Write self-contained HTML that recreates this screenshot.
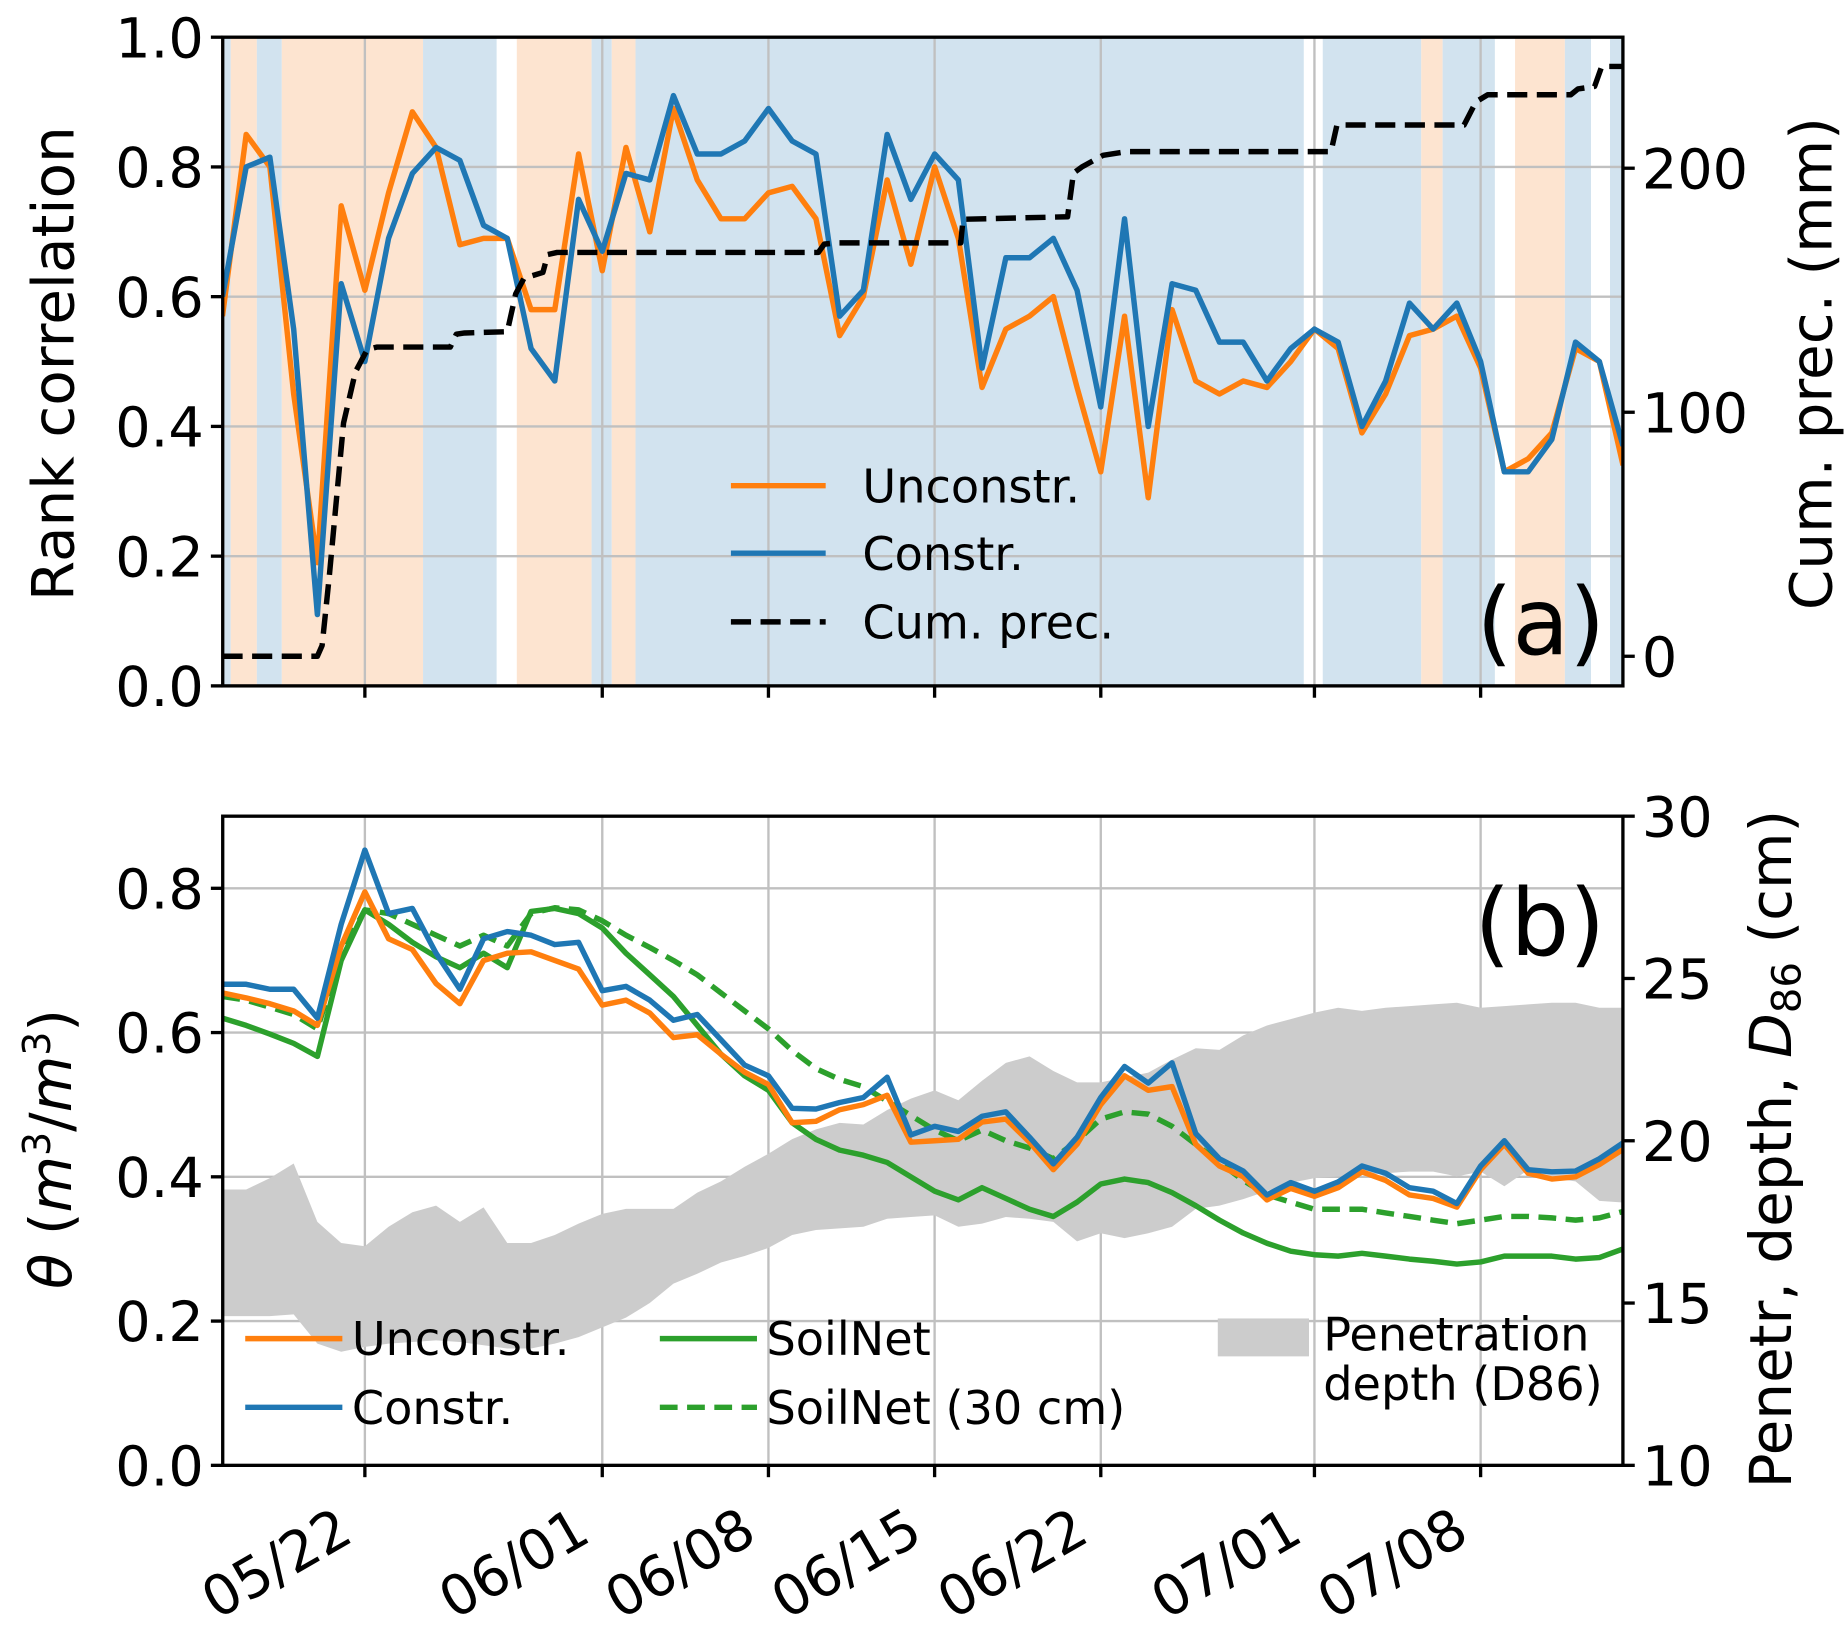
<!DOCTYPE html>
<html><head><meta charset="utf-8">
<style>
html,body{margin:0;padding:0;background:#fff;}
svg{display:block;}
text{font-family:"DejaVu Sans","Liberation Sans",sans-serif;fill:#000;}
</style></head>
<body>
<svg id="fig" width="1848" height="1630" viewBox="0 0 1560 1376" xmlns="http://www.w3.org/2000/svg">
<g id="pa"></g>
<g id="pb"></g>
</svg>
<script>
// ---------- data ----------
const dateTicks = [0, 10, 17, 24, 31, 40, 47];
const dateLabels = ["05/22", "06/01", "06/08", "06/15", "06/22", "07/01", "07/08"];
const seriesDays = [-6,-5,-4,-3,-2,-1,0,1,2,3,4,5,6,7,8,9,10,11,12,13,14,15,16,17,18,19,20,21,22,23,24,25,26,27,28,29,30,31,32,33,34,35,36,37,38,39,40,41,42,43,44,45,46,47,48,49,50,51,52,53];
const rankUnconstr = [0.57,0.85,0.80,0.45,0.19,0.74,0.61,0.76,0.885,0.83,0.68,0.69,0.69,0.58,0.58,0.82,0.64,0.83,0.70,0.89,0.78,0.72,0.72,0.76,0.77,0.72,0.54,0.60,0.78,0.65,0.80,0.69,0.46,0.55,0.57,0.60,0.46,0.33,0.57,0.29,0.58,0.47,0.45,0.47,0.46,0.50,0.55,0.52,0.39,0.45,0.54,0.55,0.57,0.49,0.33,0.35,0.39,0.52,0.50,0.34];
const rankConstr = [0.60,0.80,0.815,0.55,0.11,0.62,0.50,0.69,0.79,0.83,0.81,0.71,0.69,0.52,0.47,0.75,0.67,0.79,0.78,0.91,0.82,0.82,0.84,0.89,0.84,0.82,0.57,0.61,0.85,0.75,0.82,0.78,0.49,0.66,0.66,0.69,0.61,0.43,0.72,0.40,0.62,0.61,0.53,0.53,0.47,0.52,0.55,0.53,0.40,0.47,0.59,0.55,0.59,0.50,0.33,0.33,0.38,0.53,0.50,0.37];
const precDays = [-6,-2,-1.8,-1.5,-0.9,-0.4,0.1,0.5,3.6,3.85,4.2,6,6.35,6.7,7.5,7.7,8.1,19.1,19.35,19.85,25.1,25.2,29.6,29.85,30.2,31.1,32.1,40.7,40.95,46.3,46.8,47.3,50.8,51.1,51.8,52.1,53];
const precMm = [0,0,4.4,32.5,95.6,116.5,125.7,126.7,126.7,132,132.5,133,148.5,154.9,157.3,164.6,165.5,165.5,168.9,169.4,169.4,179.1,180.1,198,200.5,205.3,206.8,206.8,217.7,217.7,227.2,230.1,230.1,232.5,233.5,241.7,241.7];
const bandStart = [-5.95,-5.65,-4.55,-3.5,2.45,5.55,6.4,9.55,10.4,11.4,39.55,40.35,44.5,45.4,47.6,48.45,50.55,51.65,52.45];
const bandEnd   = [-5.65,-4.55,-3.5,2.45,5.55,6.4,9.55,10.4,11.4,39.55,40.35,44.5,45.4,47.6,48.45,50.55,51.65,52.45,53];
const bandKind  = ["c","u","c","u","c","n","u","c","u","c","n","c","u","c","n","u","c","n","c"];
const thetaUnconstr = [0.655,0.648,0.64,0.63,0.61,0.72,0.795,0.73,0.715,0.668,0.64,0.70,0.71,0.712,0.70,0.688,0.638,0.645,0.627,0.593,0.597,0.57,0.545,0.528,0.475,0.477,0.493,0.50,0.513,0.448,0.45,0.452,0.476,0.48,0.448,0.41,0.445,0.50,0.54,0.52,0.525,0.445,0.415,0.40,0.368,0.384,0.373,0.385,0.407,0.395,0.375,0.37,0.358,0.41,0.445,0.405,0.397,0.40,0.417,0.438];
const thetaConstr = [0.667,0.667,0.66,0.66,0.62,0.75,0.853,0.765,0.772,0.71,0.66,0.73,0.74,0.735,0.722,0.725,0.658,0.664,0.645,0.617,0.625,0.59,0.555,0.54,0.495,0.494,0.503,0.51,0.538,0.458,0.47,0.463,0.484,0.49,0.455,0.418,0.455,0.51,0.553,0.53,0.558,0.46,0.425,0.408,0.375,0.392,0.38,0.393,0.415,0.405,0.385,0.38,0.363,0.415,0.45,0.41,0.407,0.408,0.425,0.447];
const soilNet = [0.62,0.61,0.598,0.585,0.567,0.70,0.77,0.75,0.725,0.705,0.69,0.71,0.69,0.768,0.772,0.765,0.745,0.71,0.68,0.65,0.61,0.57,0.54,0.52,0.475,0.452,0.437,0.43,0.42,0.40,0.38,0.368,0.385,0.37,0.355,0.345,0.365,0.39,0.397,0.392,0.378,0.36,0.34,0.322,0.308,0.297,0.292,0.29,0.294,0.29,0.286,0.283,0.279,0.282,0.29,0.29,0.29,0.286,0.288,0.30];
const soilNet30 = [0.65,0.645,0.635,0.625,0.605,0.71,0.77,0.765,0.75,0.735,0.72,0.735,0.72,0.765,0.773,0.77,0.755,0.735,0.718,0.70,0.68,0.655,0.63,0.605,0.575,0.55,0.535,0.525,0.505,0.485,0.465,0.45,0.465,0.45,0.44,0.425,0.45,0.48,0.49,0.487,0.47,0.445,0.42,0.395,0.375,0.365,0.355,0.355,0.355,0.35,0.345,0.34,0.335,0.34,0.345,0.345,0.343,0.34,0.343,0.352];
const penUpper = [18.5,18.5,18.85,19.3,17.5,16.85,16.75,17.35,17.8,18.0,17.5,17.95,16.85,16.85,17.1,17.45,17.75,17.9,17.9,17.9,18.4,18.75,19.2,19.6,20.05,20.35,20.55,20.5,20.95,21.3,21.55,21.25,21.85,22.4,22.6,22.15,21.8,21.8,21.95,22.1,22.5,22.85,22.8,23.25,23.55,23.75,23.95,24.1,24.0,24.1,24.15,24.2,24.25,24.1,24.15,24.2,24.25,24.25,24.1,24.1];
const penLower = [14.6,14.6,14.6,14.65,13.75,13.5,13.65,13.75,13.8,13.85,13.8,13.7,13.6,13.6,13.75,13.95,14.25,14.55,15.0,15.6,15.9,16.25,16.45,16.7,17.1,17.25,17.3,17.35,17.6,17.65,17.7,17.35,17.45,17.65,17.6,17.5,16.9,17.15,17.0,17.15,17.35,17.9,18.0,18.2,18.45,18.7,18.85,18.9,18.95,19.0,19.05,19.05,18.9,19.05,18.6,19.1,18.85,18.75,18.15,18.1];

// ---------- helpers ----------
const NS = "http://www.w3.org/2000/svg";
const X0 = 188, X1 = 1370;
const LW = 4.6;
function xOf(d){ return 308 + d * 20.04; }
const A = {top:31.4, bot:579, ly:v=>579 - v*547.6, ry:mm=>554 - mm*2.06};
const B = {top:689, bot:1237, ly:v=>1237 - v*608.9, ry:cm=>1237 - (cm-10)*27.4};
function mk(parent, tag, attrs){
  const e = document.createElementNS(NS, tag);
  for (const k in attrs) e.setAttribute(k, attrs[k]);
  parent.appendChild(e);
  return e;
}
function txt(parent, x, y, s, size, anchor, extra){
  const t = mk(parent, "text", Object.assign({x:x, y:y, "font-size":size, "text-anchor":anchor||"start"}, extra||{}));
  t.textContent = s;
  return t;
}
function pathFrom(xs, ys){ return xs.map((x,i)=>(i?"L":"M")+x.toFixed(1)+","+ys[i].toFixed(1)).join(""); }

const pa = document.getElementById("pa");
const pb = document.getElementById("pb");

// ---------- panel a ----------
const clipA = mk(pa, "clipPath", {id:"clipA"});
mk(clipA, "rect", {x:X0, y:A.top, width:X1-X0, height:A.bot-A.top});
const bandsG = mk(pa, "g", {"clip-path":"url(#clipA)"});


bandStart.forEach((s,i)=>{
  if (bandKind[i] === "n") return;
  const r = mk(bandsG, "rect", {x:xOf(s), y:A.top, width:xOf(bandEnd[i])-xOf(s), height:A.bot-A.top,
    fill: bandKind[i]==="u" ? "#fde4d0" : "#d2e3ef"});
  
  
});
const gridA = mk(pa, "g", {stroke:"#c0c0c0", "stroke-width":2});


[0.2,0.4,0.6,0.8].forEach(v=>mk(gridA,"line",{x1:X0,x2:X1,y1:A.ly(v),y2:A.ly(v)}));
dateTicks.forEach(d=>mk(gridA,"line",{x1:xOf(d),x2:xOf(d),y1:A.top,y2:A.bot}));
const serA = mk(pa, "g", {"clip-path":"url(#clipA)", fill:"none", "stroke-linejoin":"round"});
const xsA = seriesDays.map(xOf);
const pU = mk(serA, "path", {d:pathFrom(xsA, rankUnconstr.map(A.ly)), stroke:"#ff7f0e", "stroke-width":LW});


const pC = mk(serA, "path", {d:pathFrom(xsA, rankConstr.map(A.ly)), stroke:"#1f77b4", "stroke-width":LW});


const pP = mk(serA, "path", {d:pathFrom(precDays.map(xOf), precMm.map(A.ry)), stroke:"#000", "stroke-width":LW, "stroke-dasharray":"17,8"});


mk(pa, "rect", {x:X0, y:A.top, width:X1-X0, height:A.bot-A.top, fill:"none", stroke:"#000", "stroke-width":2.8});
const tkA = mk(pa, "g", {stroke:"#000", "stroke-width":2.8});
[0,0.2,0.4,0.6,0.8,1.0].forEach(v=>{
  mk(tkA,"line",{x1:X0-10,x2:X0,y1:A.ly(v),y2:A.ly(v)});
  const t = txt(pa, X0-16, A.ly(v)+17, v.toFixed(1), 47, "end");
  
  
});
[0,100,200].forEach(v=>{
  mk(tkA,"line",{x1:X1,x2:X1+10,y1:A.ry(v),y2:A.ry(v)});
  const t = txt(pa, X1+16, A.ry(v)+17, String(v), 47, "start");
  
  
});
dateTicks.forEach(d=>mk(tkA,"line",{x1:xOf(d),x2:xOf(d),y1:A.bot,y2:A.bot+10}));
const ylA = txt(pa, 0, 0, "Rank correlation", 49, "middle", {transform:"translate(62,307) rotate(-90)"});


const y2A = txt(pa, 0, 0, "Cum. prec. (mm)", 49, "middle", {transform:"translate(1546,307) rotate(-90)"});


const tagA = txt(pa, 1355, 552, "(a)", 78, "end");


const legA = mk(pa, "g", {});


[["Unconstr.","#ff7f0e",null,410],["Constr.","#1f77b4",null,467],["Cum. prec.","#000","17,8",525]].forEach(r=>{
  const l = mk(legA,"line",{x1:617,x2:697,y1:r[3],y2:r[3],stroke:r[1],"stroke-width":LW});
  if (r[2]) l.setAttribute("stroke-dasharray", r[2]);
  const t = txt(legA, 728, r[3]+14, r[0], 39, "start");
  
  
});

// ---------- panel b ----------
const clipB = mk(pb, "clipPath", {id:"clipB"});
mk(clipB, "rect", {x:X0, y:B.top, width:X1-X0, height:B.bot-B.top});
const gridB = mk(pb, "g", {stroke:"#c0c0c0", "stroke-width":2});


[0.2,0.4,0.6,0.8].forEach(v=>mk(gridB,"line",{x1:X0,x2:X1,y1:B.ly(v),y2:B.ly(v)}));
dateTicks.forEach(d=>mk(gridB,"line",{x1:xOf(d),x2:xOf(d),y1:B.top,y2:B.bot}));
const serB = mk(pb, "g", {"clip-path":"url(#clipB)", fill:"none", "stroke-linejoin":"round"});
const xsB = seriesDays.map(xOf);
const up = xsB.map((x,i)=>(i?"L":"M")+x.toFixed(1)+","+B.ry(penUpper[i]).toFixed(1)).join("");
const lo = xsB.slice().reverse().map((x,j)=>{const i=xsB.length-1-j;return "L"+x.toFixed(1)+","+B.ry(penLower[i]).toFixed(1);}).join("");
const band = mk(serB, "path", {d:up+lo+"Z", fill:"#cccccc", stroke:"none"});


const lines = [
  [soilNet30,"#2ca02c","15,8","soilnet-30cm-line"],
  [soilNet,"#2ca02c",null,"soilnet-line"],
  [thetaUnconstr,"#ff7f0e",null,"theta-unconstr-line"],
  [thetaConstr,"#1f77b4",null,"theta-constr-line"]
];
lines.forEach(L=>{
  const p = mk(serB,"path",{d:pathFrom(xsB, L[0].map(B.ly)), stroke:L[1], "stroke-width":LW});
  if (L[2]) p.setAttribute("stroke-dasharray", L[2]);
  
  
});
mk(pb, "rect", {x:X0, y:B.top, width:X1-X0, height:B.bot-B.top, fill:"none", stroke:"#000", "stroke-width":2.8});
const tkB = mk(pb, "g", {stroke:"#000", "stroke-width":2.8});
[0,0.2,0.4,0.6,0.8].forEach(v=>{
  mk(tkB,"line",{x1:X0-10,x2:X0,y1:B.ly(v),y2:B.ly(v)});
  const t = txt(pb, X0-16, B.ly(v)+17, v.toFixed(1), 47, "end");
  
  
});
[10,15,20,25,30].forEach(v=>{
  mk(tkB,"line",{x1:X1,x2:X1+10,y1:B.ry(v),y2:B.ry(v)});
  const t = txt(pb, X1+16, B.ry(v)+17, String(v), 47, "start");
  
  
});
dateTicks.forEach((d,i)=>{
  mk(tkB,"line",{x1:xOf(d),x2:xOf(d),y1:B.bot,y2:B.bot+10});
  const t = txt(pb, 0, 0, dateLabels[i], 47, "end", {transform:"translate("+(xOf(d)-8)+",1300) rotate(-30)"});
  
  
});
const ylB = mk(pb, "text", {transform:"translate(60,970) rotate(-90)", "font-size":49, "text-anchor":"middle"});


ylB.innerHTML = '<tspan font-style="italic">θ</tspan> (<tspan font-style="italic">m</tspan><tspan font-size="32" dy="-18">3</tspan><tspan dy="18">/</tspan><tspan font-style="italic">m</tspan><tspan font-size="32" dy="-18">3</tspan><tspan dy="18">)</tspan>';
const y2B = mk(pb, "text", {transform:"translate(1512,970) rotate(-90)", "font-size":49, "text-anchor":"middle"});


y2B.innerHTML = 'Penetr, depth, <tspan font-style="italic">D</tspan><tspan font-size="34" dy="8">86</tspan><tspan dy="-8"> (cm)</tspan>';
const tagB = txt(pb, 1355, 806, "(b)", 78, "end");


const legB = mk(pb, "g", {});


[["Unconstr.","#ff7f0e",null,207,1130],["Constr.","#1f77b4",null,207,1188],["SoilNet","#2ca02c",null,557,1130],["SoilNet (30 cm)","#2ca02c","15,8",557,1188]].forEach(r=>{
  const l = mk(legB,"line",{x1:r[3],x2:r[3]+82,y1:r[4],y2:r[4],stroke:r[1],"stroke-width":LW});
  if (r[2]) l.setAttribute("stroke-dasharray", r[2]);
  const t = txt(legB, r[3]+90, r[4]+14, r[0], 39, "start");
  
  
});
const patch = mk(legB,"rect",{x:1028,y:1113,width:77,height:32,fill:"#cccccc"});


const pt1 = txt(legB, 1117, 1140, "Penetration", 39, "start");


const pt2 = txt(legB, 1117, 1182, "depth (D86)", 39, "start");


</script>
</body></html>
